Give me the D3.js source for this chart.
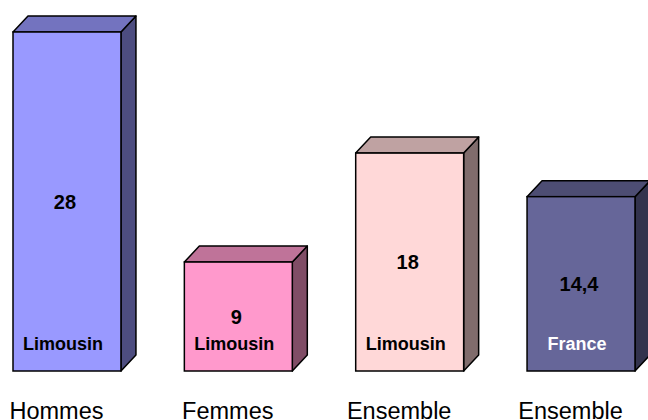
<!DOCTYPE html>
<html>
<head>
<meta charset="utf-8">
<script src="https://cdn.jsdelivr.net/npm/d3@7"></script>
<style>
  body { margin: 0; background: #fff; }
  svg { display: block; font-family: Arial, "Liberation Sans", sans-serif; }
</style>
</head>
<body>
<div id="chart"></div>
<script>
//// DATA ////
var categories = ["Hommes", "Femmes", "Ensemble", "Ensemble"];
var values = [28, 9, 18, 14.4];
var valueLabels = ["28", "9", "18", "14,4"];
var zoneLabels = ["Limousin", "Limousin", "Limousin", "France"];
var frontColors = ["#9999FF", "#FF99CC", "#FFD8D8", "#666699"];

//// SET UP ////
var svgWidth = 648;
var svgHeight = 420;
var depthX = 15;
var depthY = 16;

var svg = d3.select("#chart")
  .append("svg")
  .attr("width", svgWidth)
  .attr("height", svgHeight);

var xScale = d3.scaleBand()
  .domain(d3.range(values.length))
  .range([13, 635])
  .paddingInner(0.37)
  .paddingOuter(0);

var yScale = d3.scaleLinear()
  .domain([0, 28])
  .range([371, 32]);

// darker shades for top and side faces
function shade(c, k) {
  var rgb = d3.rgb(c);
  return d3.rgb(rgb.r * k, rgb.g * k, rgb.b * k).formatHex();
}

var bars = svg.selectAll("g.bar")
  .data(values)
  .enter()
  .append("g")
  .attr("class", "bar");

// side face
bars.append("path")
  .attr("d", function(d, i) {
    var x1 = xScale(i) + xScale.bandwidth();
    var yt = yScale(d), yb = yScale(0);
    return "M" + x1 + "," + yt + "L" + (x1 + depthX) + "," + (yt - depthY) +
      "L" + (x1 + depthX) + "," + (yb - depthY) + "L" + x1 + "," + yb + "Z";
  })
  .attr("fill", (d, i) => shade(frontColors[i], 0.5))
  .attr("stroke", "#000")
  .attr("stroke-width", 1.5)
  .attr("stroke-linejoin", "round");

// top face
bars.append("path")
  .attr("d", function(d, i) {
    var x0 = xScale(i), x1 = x0 + xScale.bandwidth();
    var yt = yScale(d);
    return "M" + x0 + "," + yt + "L" + (x0 + depthX) + "," + (yt - depthY) +
      "L" + (x1 + depthX) + "," + (yt - depthY) + "L" + x1 + "," + yt + "Z";
  })
  .attr("fill", (d, i) => shade(frontColors[i], 0.75))
  .attr("stroke", "#000")
  .attr("stroke-width", 1.5)
  .attr("stroke-linejoin", "round");

// front face
bars.append("rect")
  .attr("x", (d, i) => xScale(i))
  .attr("y", d => yScale(d))
  .attr("width", xScale.bandwidth())
  .attr("height", d => yScale(0) - yScale(d))
  .attr("fill", (d, i) => frontColors[i])
  .attr("stroke", "#000")
  .attr("stroke-width", 1.5);

// value labels in the middle of the front face
bars.append("text")
  .attr("x", (d, i) => xScale(i) + xScale.bandwidth() / 2 - 2)
  .attr("y", d => (yScale(d) + yScale(0)) / 2 + 7)
  .attr("text-anchor", "middle")
  .attr("font-size", "20px")
  .attr("font-weight", "bold")
  .attr("fill", "#000")
  .text((d, i) => valueLabels[i]);

// zone labels
bars.append("text")
  .attr("x", (d, i) => xScale(i) + xScale.bandwidth() / 2 - 4)
  .attr("y", 350)
  .attr("text-anchor", "middle")
  .attr("font-size", "18px")
  .attr("font-weight", "bold")
  .attr("fill", (d, i) => zoneLabels[i] === "France" ? "#fff" : "#000")
  .text((d, i) => zoneLabels[i]);

// category labels (sit right on the bottom edge, as in the original)
svg.selectAll("text.cat")
  .data(categories)
  .enter()
  .append("text")
  .attr("class", "cat")
  .attr("x", (d, i) => xScale(i) + xScale.bandwidth() / 2 - 10.5)
  .attr("y", 418.5)
  .attr("text-anchor", "middle")
  .attr("font-size", "23.5px")
  .attr("fill", "#000")
  .text(d => d);
</script>
</body>
</html>
